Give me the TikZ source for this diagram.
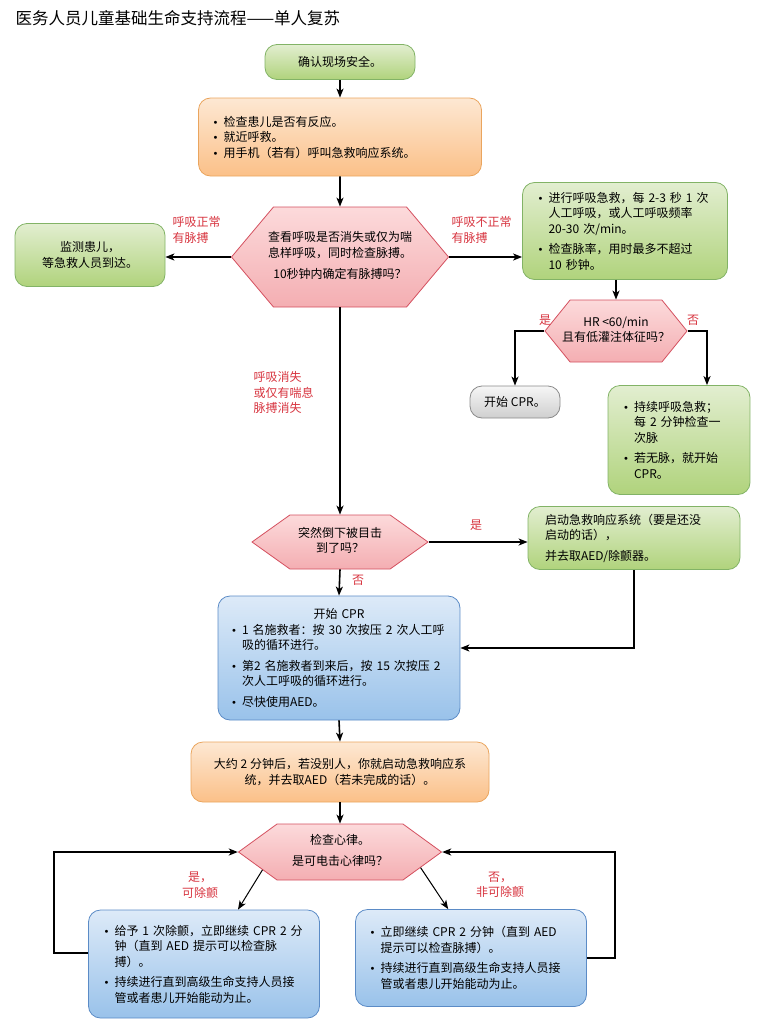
\documentclass[tikz,border=0pt]{standalone}
\usepackage{fontspec}
\setmainfont{Noto Sans CJK SC}
\newfontfamily\symfont{DejaVu Sans}
\usetikzlibrary{positioning,shapes.symbols,arrows.meta}

\definecolor{grnTop}{HTML}{E2EED0}
\definecolor{grnBot}{HTML}{B0D37C}
\definecolor{grnLine}{HTML}{82B366}
\definecolor{orgTop}{HTML}{FDE8D3}
\definecolor{orgBot}{HTML}{FBC088}
\definecolor{orgLine}{HTML}{EAA55E}
\definecolor{pnkTop}{HTML}{FCDADB}
\definecolor{pnkBot}{HTML}{F4AEB2}
\definecolor{pnkLine}{HTML}{D4505F}
\definecolor{bluTop}{HTML}{DDEAF8}
\definecolor{bluBot}{HTML}{99C2EA}
\definecolor{bluLine}{HTML}{5B8BC6}
\definecolor{gryTop}{HTML}{F6F6F6}
\definecolor{gryBot}{HTML}{CFCFCF}
\definecolor{gryLine}{HTML}{8A8A8A}
\definecolor{lblRed}{HTML}{D7343F}

\newcommand\bul{\makebox[11pt][l]{{\symfont\fontsize{10}{12}\selectfont •}}}
\newcommand\ind{\hspace*{11pt}}
% text of a hexagon may run into its pointed ends
\newcommand\hexbox[2]{\makebox[#1]{\begin{tabular}{@{}c@{}}#2\end{tabular}}}

\tikzset{
  box/.style={rounded corners=12pt, line width=0.8pt, inner ysep=0pt},
  greenbox/.style={box, draw=grnLine, top color=grnTop, bottom color=grnBot},
  orangebox/.style={box, draw=orgLine, top color=orgTop, bottom color=orgBot},
  bluebox/.style={box, draw=bluLine, top color=bluTop, bottom color=bluBot},
  graybox/.style={box, draw=gryLine, top color=gryTop, bottom color=gryBot},
  hexnode/.style={shape=signal, signal to=west and east, line width=0.8pt,
    draw=pnkLine, top color=pnkTop, bottom color=pnkBot, align=center, inner sep=0pt},
  arr/.style={line width=1.6pt, -{Stealth[length=9pt,width=7pt,inset=2.5pt]}},
  thin arr/.style={line width=1pt, -{Stealth[length=9pt,width=7pt,inset=2.5pt]}},
  lbl/.style={text=lblRed, align=left}
}

\begin{document}
\begin{tikzpicture}[x=1pt, y=-1pt, font=\fontsize{12}{15.5}\selectfont]
\useasboundingbox (0,0) rectangle (764,1025);

\node[anchor=west, font=\fontsize{16.5}{19}\selectfont] (title) at (12,18) {医务人员儿童基础生命支持流程——单人复苏};

% top part
\node[greenbox, minimum width=150pt, minimum height=35pt] (safety) at (340,62) {确认现场安全。};
\node[orangebox, inner xsep=14pt, text width=255pt, minimum height=78pt, align=left] (check) at (340,137)
  {\bul 检查患儿是否有反应。\\ \bul 就近呼救。\\ \bul 用手机（若有）呼叫急救响应系统。};
\node[hexnode, minimum width=217pt, minimum height=100pt, signal pointer angle=100] (hexA) at (340,257)
  {\hexbox{120pt}{查看呼吸是否消失或仅为喘\\息样呼吸，同时检查脉搏。\\[6pt]10秒钟内确定有脉搏吗？}};
\node[greenbox, minimum width=150pt, minimum height=63pt, align=center] (monitor) at (90,255)
  {监测患儿，\\等急救人员到达。};
\node[greenbox, inner xsep=15pt, text width=175pt, minimum height=97pt, align=left] (breath) at (625,231)
  {\bul 进行呼吸急救，每 2-3 秒 1 次\\ \ind 人工呼吸，或人工呼吸频率\\ \ind 20-30 次/min。\\[5pt]
   \bul 检查脉率，用时最多不超过\\ \ind 10 秒钟。};
\node[hexnode, minimum width=142pt, minimum height=62pt, signal pointer angle=102] (hexB) at (616,331)
  {\hexbox{80pt}{HR <60/min\\且有低灌注体征吗？}};
\node[graybox, minimum width=90pt, minimum height=32pt] (startCPR) at (515,402) {开始 CPR。};
\node[greenbox, inner xsep=15pt, text width=112pt, minimum height=109pt, align=left] (cont) at (679,440)
  {\bul 持续呼吸急救；\\ \ind 每 2 分钟检查一\\ \ind 次脉\\[5pt]
   \bul 若无脉，就开始\\ \ind CPR。};

% labels
\node[lbl, anchor=north west] (normal) at (169,213) {呼吸正常\\有脉搏};
\node[lbl, anchor=north west] (abnormal) at (448,213) {呼吸不正常\\有脉搏};
\node[lbl, anchor=north west] (absent) at (250,368) {呼吸消失\\或仅有喘息\\脉搏消失};
\node[lbl] (yesB) at (545,320) {是};
\node[lbl] (noB) at (693,320) {否};

% middle part
\node[hexnode, minimum width=176pt, minimum height=54pt, signal pointer angle=71] (hexC) at (340,542)
  {\hexbox{80pt}{突然倒下被目击\\到了吗？}};
\node[greenbox, inner xsep=17pt, text width=178pt, minimum height=63pt, align=left] (aed) at (634,538)
  {启动急救响应系统（要是还没\\启动的话），\\[5pt]并去取AED/除颤器。};
\node[lbl] (yesC) at (476,525) {是};
\node[lbl] (noC) at (358,580) {否};
\node[bluebox, inner xsep=13pt, text width=216pt, minimum height=124pt, align=left] (cpr) at (339,658)
  {\makebox[216pt][c]{开始 CPR}\\
   \bul 1 名施救者：按 30 次按压 2 次人工呼\\ \ind 吸的循环进行。\\[5pt]
   \bul 第2 名施救者到来后，按 15 次按压 2\\ \ind 次人工呼吸的循环进行。\\[5pt]
   \bul 尽快使用AED。};
\node[orangebox, minimum width=298pt, minimum height=60pt, align=center] (afterTwo) at (340,772)
  {大约 2 分钟后，若没别人，你就启动急救响应系\\统，并去取AED（若未完成的话）。};

% bottom part
\node[hexnode, minimum width=203pt, minimum height=56pt, signal pointer angle=72] (hexD) at (340,852)
  {\hexbox{100pt}{检查心律。\\[6pt]是可电击心律吗？}};
\node[bluebox, inner xsep=15pt, text width=201pt, minimum height=108pt, align=left] (shock) at (204,964)
  {\bul 给予 1 次除颤，立即继续 CPR 2 分\\ \ind 钟（直到 AED 提示可以检查脉\\ \ind 搏）。\\[5pt]
   \bul 持续进行直到高级生命支持人员接\\ \ind 管或者患儿开始能动为止。};
\node[bluebox, inner xsep=14pt, text width=203pt, minimum height=97pt, align=left] (noshock) at (471,958)
  {\bul 立即继续 CPR 2 分钟（直到 AED\\ \ind 提示可以检查脉搏）。\\[5pt]
   \bul 持续进行直到高级生命支持人员接\\ \ind 管或者患儿开始能动为止。};
\node[lbl, align=center] (yesD) at (200,885) {是，\\可除颤};
\node[lbl, align=center] (noD) at (500,885) {否，\\非可除颤};

% connectors
\draw[arr] (safety) -- (check);
\draw[arr] (check) -- (hexA);
\draw[arr] (hexA.west) -- (hexA.west -| monitor.east);
\draw[arr] (hexA.east) -- (hexA.east -| breath.west);
\draw[arr] (hexB.north |- breath.south) -- (hexB.north);
\draw[arr] (hexB.west) -| (startCPR.north);
\draw[arr] (hexB.east) -| ([xshift=28pt]cont.north);
\draw[arr] (hexA.south) -- (hexC.north);
\draw[arr] (hexC.east) -- (hexC.east -| aed.west);
\draw[arr] (hexC.south) -- (cpr.north);
\draw[arr] (aed.south) |- ([yshift=10pt]cpr.east);
\draw[arr] (cpr.south) -- (afterTwo.north);
\draw[arr] (afterTwo.south) -- (hexD.north);
\draw[thin arr] (hexD.193) -- (shock.58);
\draw[thin arr] (hexD.349) -- (noshock.115);
\draw[arr] ([yshift=11pt]shock.west) -- ++(-34,0) |- (hexD.west);
\draw[arr] (noshock.east) -- ++(28,0) |- (hexD.east);
\end{tikzpicture}
\end{document}
